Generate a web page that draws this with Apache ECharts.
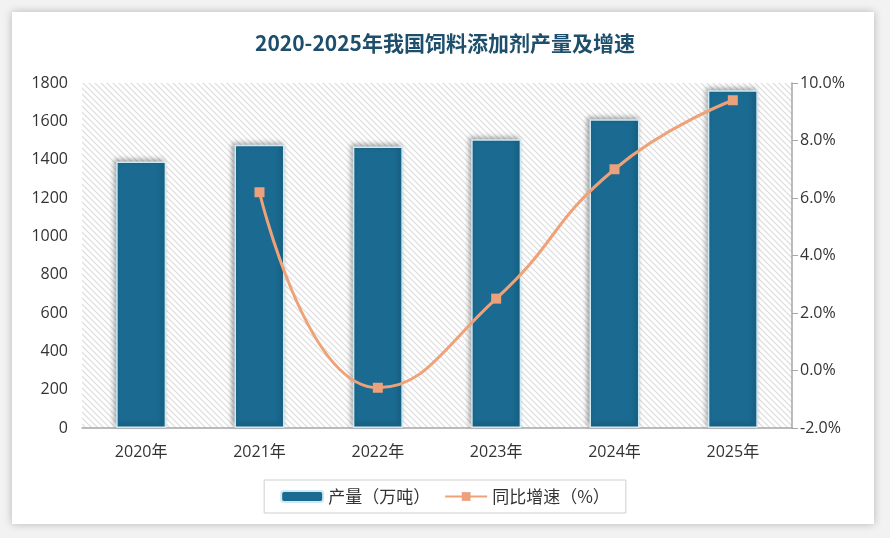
<!DOCTYPE html>
<html>
<head>
<meta charset="utf-8">
<script src="https://cdn.jsdelivr.net/npm/echarts@6/dist/echarts.min.js"></script>
<style>
html,body{margin:0;padding:0;background:#f2f2f2;}
#card{position:absolute;left:12px;top:12px;width:862px;height:512px;background:#fff;box-shadow:0 0 8px rgba(0,0,0,0.25);}
#main{position:absolute;left:0;top:0;width:890px;height:538px;}
</style>
</head>
<body>
<div id="card"></div>
<div id="main"></div>
<script>
var categories = ['2020年','2021年','2022年','2023年','2024年','2025年'];
var production = [1390.8, 1477.6, 1468.8, 1505.9, 1611.0, 1762.0];
var growth = [null, 6.2, -0.6, 2.5, 7.0, 9.4];
var titleText = '2020-2025年我国饲料添加剂产量及增速';
var barName = '产量（万吨）';
var lineName = '同比增速（%）';

var pc = document.createElement('canvas');
pc.width = 6; pc.height = 6;
var ctx = pc.getContext('2d');
ctx.fillStyle = '#ffffff';
ctx.fillRect(0,0,6,6);
ctx.strokeStyle = '#dcdcdc';
ctx.lineWidth = 1.2;
ctx.beginPath();
ctx.moveTo(-1,-1); ctx.lineTo(7,7);
ctx.moveTo(-1,5); ctx.lineTo(1,7);
ctx.moveTo(5,-1); ctx.lineTo(7,1);
ctx.stroke();

var chart = echarts.init(document.getElementById('main'));
var font = '"Noto Sans CJK SC", "Noto Sans", sans-serif';
var numFont = '"Open Sans", "Noto Sans CJK SC", sans-serif';
chart.setOption({
  textStyle: {fontFamily: font},
  title: {
    text: titleText, left: 'center', top: 28,
    textStyle: {color: '#1d4f6c', fontSize: 21, fontWeight: 'bold', fontFamily: font}
  },
  legend: {
    bottom: 25, left: 'center',
    borderColor: '#cfcfcf', borderWidth: 1, padding: [8, 16],
    itemWidth: 42, itemHeight: 11, itemGap: 14,
    textStyle: {fontSize: 17, color: '#333'},
    data: [barName, lineName]
  },
  grid: {
    left: 82, right: 98, top: 83, bottom: 110,
    show: true, borderWidth: 0,
    backgroundColor: {image: pc, repeat: 'repeat'}
  },
  xAxis: {
    type: 'category', data: categories,
    axisLine: {lineStyle: {color: '#a6a6a6', width: 1.5}},
    axisTick: {show: false},
    axisLabel: {fontSize: 16, color: '#333', margin: 16, fontFamily: numFont}
  },
  yAxis: [{
    type: 'value', min: 0, max: 1800, interval: 200,
    axisLine: {show: false}, axisTick: {show: false},
    splitLine: {show: false},
    axisLabel: {fontSize: 16, color: '#333', margin: 14, fontFamily: numFont,
      formatter: function (v) { return String(v); }}
  }, {
    type: 'value', min: -2, max: 10, interval: 2,
    position: 'right',
    axisLine: {show: true, lineStyle: {color: '#a6a6a6', width: 1.5}},
    axisTick: {show: true, length: 6, lineStyle: {color: '#a6a6a6'}},
    splitLine: {show: false},
    axisLabel: {fontSize: 16, color: '#333', margin: 8, fontFamily: numFont,
      formatter: function (v) { return v.toFixed(1) + '%'; }}
  }],
  series: [{
    name: barName, type: 'bar', data: production, barWidth: 50,
    itemStyle: {
      color: '#1b6a91', borderColor: '#cdeaf3', borderWidth: 1.5,
      shadowColor: 'rgba(0,0,0,0.35)', shadowBlur: 5, shadowOffsetX: -2, shadowOffsetY: -2
    }
  }, {
    name: lineName, type: 'line', yAxisIndex: 1, data: growth,
    smooth: true, symbol: 'rect', symbolSize: 10,
    lineStyle: {color: '#efa277', width: 3},
    itemStyle: {color: '#eba27c'}
  }]
});
</script>
</body>
</html>
